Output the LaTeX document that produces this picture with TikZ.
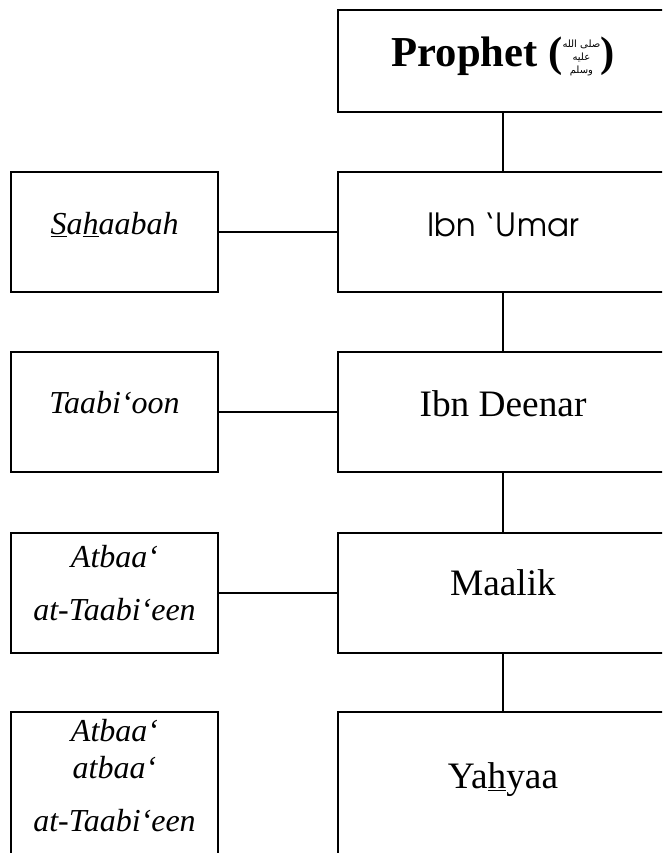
\documentclass[tikz,border=0pt]{standalone}
\usepackage{fontspec}
\setmainfont{Liberation Serif}
\newfontfamily\gothic{texgyreadventor-regular.otf}
\newfontfamily\arabicfont[Script=Arabic]{DejaVu Sans}
\TeXXeTstate=1
\newcommand{\salla}{{\normalfont\arabicfont\fontsize{7.5}{9}\selectfont
  \raisebox{-5pt}{\shortstack{\beginR صلى الله\endR\\\beginR عليه\endR\\\beginR وسلم\endR}}}}
\begin{document}
\begin{tikzpicture}[x=0.75pt,y=-0.75pt,
  box/.style={draw,line width=1.5pt,inner sep=0pt,outer sep=0pt,rectangle},
  lbox/.style={box,minimum width=155.25pt},
  rbox/.style={box,minimum width=247.5pt},
  lab/.style={anchor=base,inner sep=0pt,outer sep=0pt},
  big/.style={lab,font=\fontsize{28}{33}\selectfont},
  ital/.style={lab,font=\fontsize{24}{29}\selectfont\itshape},
  link/.style={line width=1.5pt}]
\useasboundingbox (0,0) rectangle (662,853);
\clip (0,0) rectangle (662,853);
% boxes
\node[rbox,minimum height=76.5pt] (p) at (503,61) {};
\node[rbox,minimum height=90pt] (r1) at (503,232) {};
\node[rbox,minimum height=90pt] (r2) at (503,412) {};
\node[rbox,minimum height=90pt] (r3) at (503,593) {};
\node[rbox,minimum height=126pt] (r4) at (503,796) {};
\node[lbox,minimum height=90pt] (l1) at (114.5,232) {};
\node[lbox,minimum height=90pt] (l2) at (114.5,412) {};
\node[lbox,minimum height=90pt] (l3) at (114.5,593) {};
\node[lbox,minimum height=126pt] (l4) at (114.5,796) {};
% connectors
\draw[link] (p.south) -- (r1.north);
\draw[link] (r1.south) -- (r2.north);
\draw[link] (r2.south) -- (r3.north);
\draw[link] (r3.south) -- (r4.north);
\draw[link] (l1.east) -- (r1.west);
\draw[link] (l2.east) -- (r2.west);
\draw[link] (l3.east) -- (r3.west);
% texts
\node[lab,font=\fontsize{32}{38}\selectfont\bfseries] (tp) at (503,66.7) {Prophet (\salla)};
\node[lab,font=\gothic\fontsize{24}{29}\selectfont] (tu) at (503,236.7) {Ibn ‘Umar};
\node[big] (td) at (503,416.7) {Ibn Deenar};
\node[big] (tm) at (503,595.7) {Maalik};
\node[big] (ty) at (503,788) {Ya\underline{h}yaa};
\node[ital] (ts) at (114.5,234) {\underline{S}a\underline{h}aabah};
\node[ital] (tt) at (114.5,413) {Taabi‘oon};
\node[ital] (ta1) at (114.5,567.3) {Atbaa‘};
\node[ital] (ta2) at (114.5,620.7) {at-Taabi‘een};
\node[ital] (tb1) at (114.5,741.7) {Atbaa‘};
\node[ital] (tb2) at (114.5,778) {atbaa‘};
\node[ital] (tb3) at (114.5,831.7) {at-Taabi‘een};
\end{tikzpicture}
\end{document}
